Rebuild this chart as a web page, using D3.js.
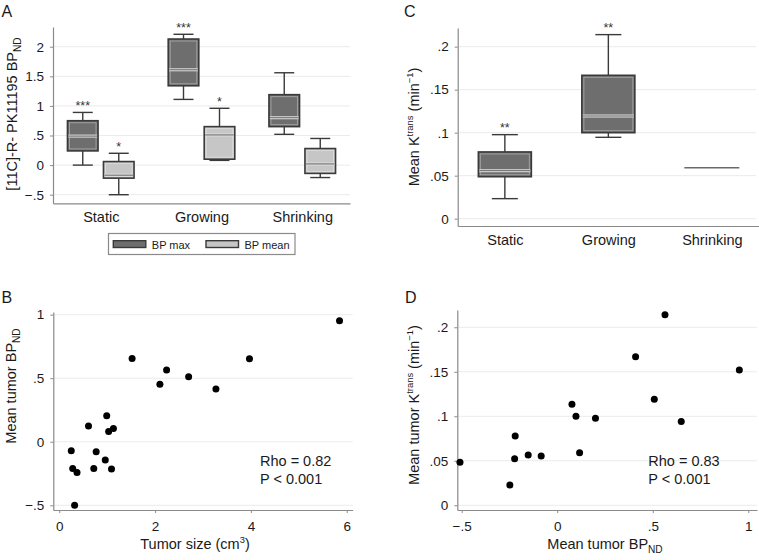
<!DOCTYPE html>
<html><head><meta charset="utf-8">
<script src="https://cdn.jsdelivr.net/npm/d3@7"></script>
<style>body{margin:0;background:#fff} svg{display:block;font-family:"Liberation Sans",Arial,Helvetica,sans-serif}</style>
</head><body><svg id="c" width="759" height="560"></svg>
<script>
// ---------- data ----------
const categories = ["Static", "Growing", "Shrinking"];
const seriesA = ["BP max", "BP mean"];
// box stats: [lower whisker, q1, median, q3, upper whisker]
const bpMaxBox  = [[0.00, 0.24, 0.49, 0.75, 0.89], [1.11, 1.34, 1.61, 2.13, 2.21], [0.52, 0.65, 0.80, 1.19, 1.56]];
const bpMeanBox = [[-0.50, -0.22, -0.17, 0.06, 0.20], [0.08, 0.10, 0.51, 0.65, 0.96], [-0.21, -0.14, 0.02, 0.28, 0.45]];
const bpMaxStars  = ["***", "***", ""];
const bpMeanStars = ["*", "*", ""];
const ktransBox = [[0.0233, 0.0488, 0.0558, 0.0776, 0.0977], [0.0946, 0.1000, 0.1194, 0.1667, 0.2140], [0.0593, 0.0593, 0.0593, 0.0593, 0.0593]];
const ktransStars = ["**", "**", ""];

const tumorSize = [5.85, 1.52, 3.97, 2.24, 2.70, 2.10, 3.27, 0.99, 0.61, 1.13, 1.03, 0.25, 0.77, 0.96, 0.28, 0.72, 1.09, 0.37, 0.32];
const tumorBP   = [0.953, 0.656, 0.654, 0.565, 0.512, 0.452, 0.415, 0.205, 0.124, 0.105, 0.080, -0.071, -0.079, -0.144, -0.210, -0.210, -0.214, -0.241, -0.500];

const meanBP     = [0.564, 0.410, 0.953, 0.508, 0.077, 0.098, 0.200, 0.649, -0.220, 0.117, -0.152, -0.084, -0.223, -0.509, -0.248];
const meanKtrans = [0.214, 0.167, 0.152, 0.119, 0.1135, 0.100, 0.0977, 0.094, 0.0779, 0.059, 0.0565, 0.0555, 0.0524, 0.0483, 0.0228];

const ticksA = [-0.5, 0, 0.5, 1, 1.5, 2];
const tickLabelsA = ["\u2212.5", "0", ".5", "1", "1.5", "2"];
const ticksK = [0, 0.05, 0.1, 0.15, 0.2];
const tickLabelsK = ["0", ".05", ".1", ".15", ".2"];
const ticksBy = [-0.5, 0, 0.5, 1];
const tickLabelsBy = ["\u2212.5", "0", ".5", "1"];
const ticksBx = [0, 2, 4, 6];
const tickLabelsBx = ["0", "2", "4", "6"];
const ticksDx = [-0.5, 0, 0.5, 1];
const tickLabelsDx = ["\u2212.5", "0", ".5", "1"];
const statsB = ["Rho = 0.82", "P < 0.001"];
const statsD = ["Rho = 0.83", "P < 0.001"];

// ---------- style ----------
const AX = "#8a8a8a", GRID = "#ebebeb", TXT = "#1a1a1a";
const DARK = "#6e6e6e", LIGHT = "#c6c6c6", EDGE = "#3a3a3a";
const svg = d3.select("#c");

function rich(sel, parts, size) {
  parts.forEach(p => {
    const t = sel.append("tspan").text(p.t);
    if (p.sub) { t.attr("font-size", size * 0.7).attr("dy", size * 0.3); }
    else if (p.sup) { t.attr("font-size", size * 0.65).attr("dy", -size * 0.4); }
    else if (p.back) { t.attr("dy", p.back); }
  });
}
function yTitle(x, y, parts, size) {
  const t = svg.append("text").attr("transform", `translate(${x},${y}) rotate(-90)`)
    .attr("text-anchor", "middle").attr("font-size", size).attr("fill", TXT);
  rich(t, parts, size);
}
function xTitle(x, y, parts, size) {
  const t = svg.append("text").attr("x", x).attr("y", y)
    .attr("text-anchor", "middle").attr("font-size", size).attr("fill", TXT);
  rich(t, parts, size);
}
function styleAxis(g, fs) {
  g.select(".domain").attr("stroke", AX).attr("stroke-width", 1.2);
  g.selectAll(".tick line").attr("stroke", AX);
  g.selectAll(".tick text").attr("fill", TXT).attr("font-size", fs)
    .attr("font-family", '"Liberation Sans",Arial,sans-serif');
}
function yAxis(y, x, xEnd, ticks, labels) {
  svg.append("g").selectAll("line").data(ticks).join("line")
    .attr("x1", x).attr("x2", xEnd).attr("y1", d => y(d)).attr("y2", d => y(d))
    .attr("stroke", GRID).attr("stroke-width", 1);
  const g = svg.append("g").attr("transform", `translate(${x},0)`)
    .call(d3.axisLeft(y).tickValues(ticks).tickFormat((d, i) => labels[i]).tickSizeInner(3).tickSizeOuter(0).tickPadding(6));
  styleAxis(g, 13.5);
}
function letter(t, x, y) {
  svg.append("text").attr("x", x).attr("y", y).attr("font-size", 16).attr("fill", TXT).text(t);
}
function box(g, cx, w, s, y, fill, capW) {
  const [lo, q1, med, q3, hi] = s.map(y);
  if (s[0] === s[4]) {
    g.append("line").attr("x1", cx - w / 2 - 1).attr("x2", cx + w / 2 + 1).attr("y1", med).attr("y2", med)
      .attr("stroke", "#6a6a6a").attr("stroke-width", 1.6);
    return;
  }
  g.append("line").attr("x1", cx).attr("x2", cx).attr("y1", hi).attr("y2", q3).attr("stroke", EDGE).attr("stroke-width", 1.4);
  g.append("line").attr("x1", cx).attr("x2", cx).attr("y1", q1).attr("y2", lo).attr("stroke", EDGE).attr("stroke-width", 1.4);
  g.append("line").attr("x1", cx - capW / 2).attr("x2", cx + capW / 2).attr("y1", hi).attr("y2", hi).attr("stroke", EDGE).attr("stroke-width", 1.4);
  g.append("line").attr("x1", cx - capW / 2).attr("x2", cx + capW / 2).attr("y1", lo).attr("y2", lo).attr("stroke", EDGE).attr("stroke-width", 1.4);
  g.append("rect").attr("x", cx - w / 2).attr("y", q3).attr("width", w).attr("height", Math.max(1, q1 - q3))
    .attr("fill", fill).attr("stroke", EDGE).attr("stroke-width", 1.6);
  if (q1 - q3 > 4) g.append("rect").attr("x", cx - w / 2 + 2).attr("y", q3 + 2).attr("width", w - 4).attr("height", q1 - q3 - 4)
    .attr("fill", "none").attr("stroke", "#ffffff").attr("stroke-opacity", 0.35).attr("stroke-width", 1);
  g.append("line").attr("x1", cx - w / 2 + 1).attr("x2", cx + w / 2 - 1).attr("y1", med).attr("y2", med)
    .attr("stroke", "#e0e0e0").attr("stroke-width", 3);
  g.append("line").attr("x1", cx - w / 2 + 1).attr("x2", cx + w / 2 - 1).attr("y1", med).attr("y2", med)
    .attr("stroke", "#444").attr("stroke-width", 0.8);
}
function stars(g, cx, yTop, s) {
  if (!s) return;
  g.append("text").attr("x", cx).attr("y", yTop - 2.5).attr("text-anchor", "middle")
    .attr("font-size", 12.5).attr("fill", "#333").text(s);
}

// ---------- Panel A ----------
{
  const y = d3.scaleLinear().domain([-0.645, 2.333]).range([203.3, 27]);
  const x = d3.scalePoint().domain(categories).range([53, 350]).padding(0.474);
  const sub = d3.scaleBand().domain(seriesA).range([-36, 36]).paddingInner(0.15).paddingOuter(0.075);
  yAxis(y, 53, 350, ticksA, tickLabelsA);
  const gx = svg.append("g").attr("transform", "translate(0,203.3)")
    .call(d3.axisBottom(x).tickSize(0).tickPadding(8.8));
  styleAxis(gx, 14.5);
  const g = svg.append("g");
  const bw = sub.bandwidth();
  categories.forEach((c, i) => {
    const c1 = x(c) + sub("BP max") + bw / 2, c2 = x(c) + sub("BP mean") + bw / 2;
    box(g, c1, bw, bpMaxBox[i], y, DARK, 20);
    box(g, c2, bw, bpMeanBox[i], y, LIGHT, 20);
    stars(g, c1, y(bpMaxBox[i][4]), bpMaxStars[i]);
    stars(g, c2, y(bpMeanBox[i][4]), bpMeanStars[i]);
  });
  yTitle(17, 114, [{t: "[11C]-R- PK11195 BP"}, {t: "ND", sub: true}], 14.5);
  // legend
  const lg = svg.append("g");
  lg.append("rect").attr("x", 108.5).attr("y", 233.5).attr("width", 186.5).attr("height", 21)
    .attr("fill", "#fff").attr("stroke", "#8a8a8a").attr("stroke-width", 1.2);
  const lx = [113.3, 206];
  seriesA.forEach((s, i) => {
    lg.append("rect").attr("x", lx[i]).attr("y", 240.7).attr("width", 32.5).attr("height", 6.8)
      .attr("fill", i === 0 ? DARK : LIGHT).attr("stroke", EDGE).attr("stroke-width", 1.4);
    lg.append("text").attr("x", lx[i] + 38.5).attr("y", 248.6).attr("font-size", 11).attr("fill", TXT).text(s);
  });
  letter("A", 1.5, 16.5);
}

// ---------- Panel C ----------
{
  const y = d3.scaleLinear().domain([-0.0085, 0.2217]).range([226, 28]);
  const x = d3.scalePoint().domain(categories).range([457.7, 759]).padding(0.4556);
  yAxis(y, 457.7, 756, ticksK, tickLabelsK);
  const gx = svg.append("g").attr("transform", "translate(0,226)")
    .call(d3.axisBottom(x).tickSize(0).tickPadding(8.8));
  styleAxis(gx, 14.5);
  const g = svg.append("g");
  categories.forEach((c, i) => {
    box(g, x(c), 53, ktransBox[i], y, DARK, 26);
    stars(g, x(c), y(ktransBox[i][4]), ktransStars[i]);
  });
  yTitle(419, 127, [{t: "Mean K"}, {t: "trans", sup: true}, {t: " (min", back: 5.8}, {t: "\u22121", sup: true}, {t: ")", back: 5.8}], 14.5);
  letter("C", 404, 16.5);
}

// ---------- Panel B ----------
{
  const y = d3.scaleLinear().domain([-0.537, 1.021]).range([510, 312]);
  const x = d3.scaleLinear().domain([-0.125, 6.125]).range([53.3, 352.7]);
  yAxis(y, 53.3, 352.7, ticksBy, tickLabelsBy);
  const gx = svg.append("g").attr("transform", "translate(0,510)")
    .call(d3.axisBottom(x).tickValues(ticksBx).tickFormat((d, i) => tickLabelsBx[i]).tickSizeInner(3).tickSizeOuter(0).tickPadding(8.5));
  styleAxis(gx, 13.5);
  svg.append("g").selectAll("circle").data(tumorSize).join("circle")
    .attr("cx", d => x(d)).attr("cy", (d, i) => y(tumorBP[i])).attr("r", 3.5).attr("fill", "#000");
  const st = svg.append("text").attr("font-size", 14.5).attr("fill", TXT);
  statsB.forEach((s, i) => st.append("tspan").attr("x", 260).attr("y", 466 + i * 18).text(s));
  yTitle(15.5, 386, [{t: "Mean tumor BP"}, {t: "ND", sub: true}], 14.5);
  xTitle(195, 549, [{t: "Tumor size (cm"}, {t: "3", sup: true}, {t: ")", back: 5.8}], 14.5);
  letter("B", 1.5, 302.5);
}

// ---------- Panel D ----------
{
  const y = d3.scaleLinear().domain([-0.0053, 0.2194]).range([510, 310]);
  const x = d3.scaleLinear().domain([-0.523, 1.0455]).range([457.3, 757]);
  yAxis(y, 457.3, 757, ticksK, tickLabelsK);
  const gx = svg.append("g").attr("transform", "translate(0,510)")
    .call(d3.axisBottom(x).tickValues(ticksDx).tickFormat((d, i) => tickLabelsDx[i]).tickSizeInner(3).tickSizeOuter(0).tickPadding(8.5));
  styleAxis(gx, 13.5);
  svg.append("g").selectAll("circle").data(meanBP).join("circle")
    .attr("cx", d => x(d)).attr("cy", (d, i) => y(meanKtrans[i])).attr("r", 3.5).attr("fill", "#000");
  const st = svg.append("text").attr("font-size", 14.5).attr("fill", TXT);
  statsD.forEach((s, i) => st.append("tspan").attr("x", 648.3).attr("y", 466 + i * 18).text(s));
  yTitle(419, 405, [{t: "Mean tumor K"}, {t: "trans", sup: true}, {t: " (min", back: 5.8}, {t: "\u22121", sup: true}, {t: ")", back: 5.8}], 14.5);
  xTitle(605, 548.5, [{t: "Mean tumor BP"}, {t: "ND", sub: true}], 14.5);
  letter("D", 405, 302.5);
}
</script></body></html>
